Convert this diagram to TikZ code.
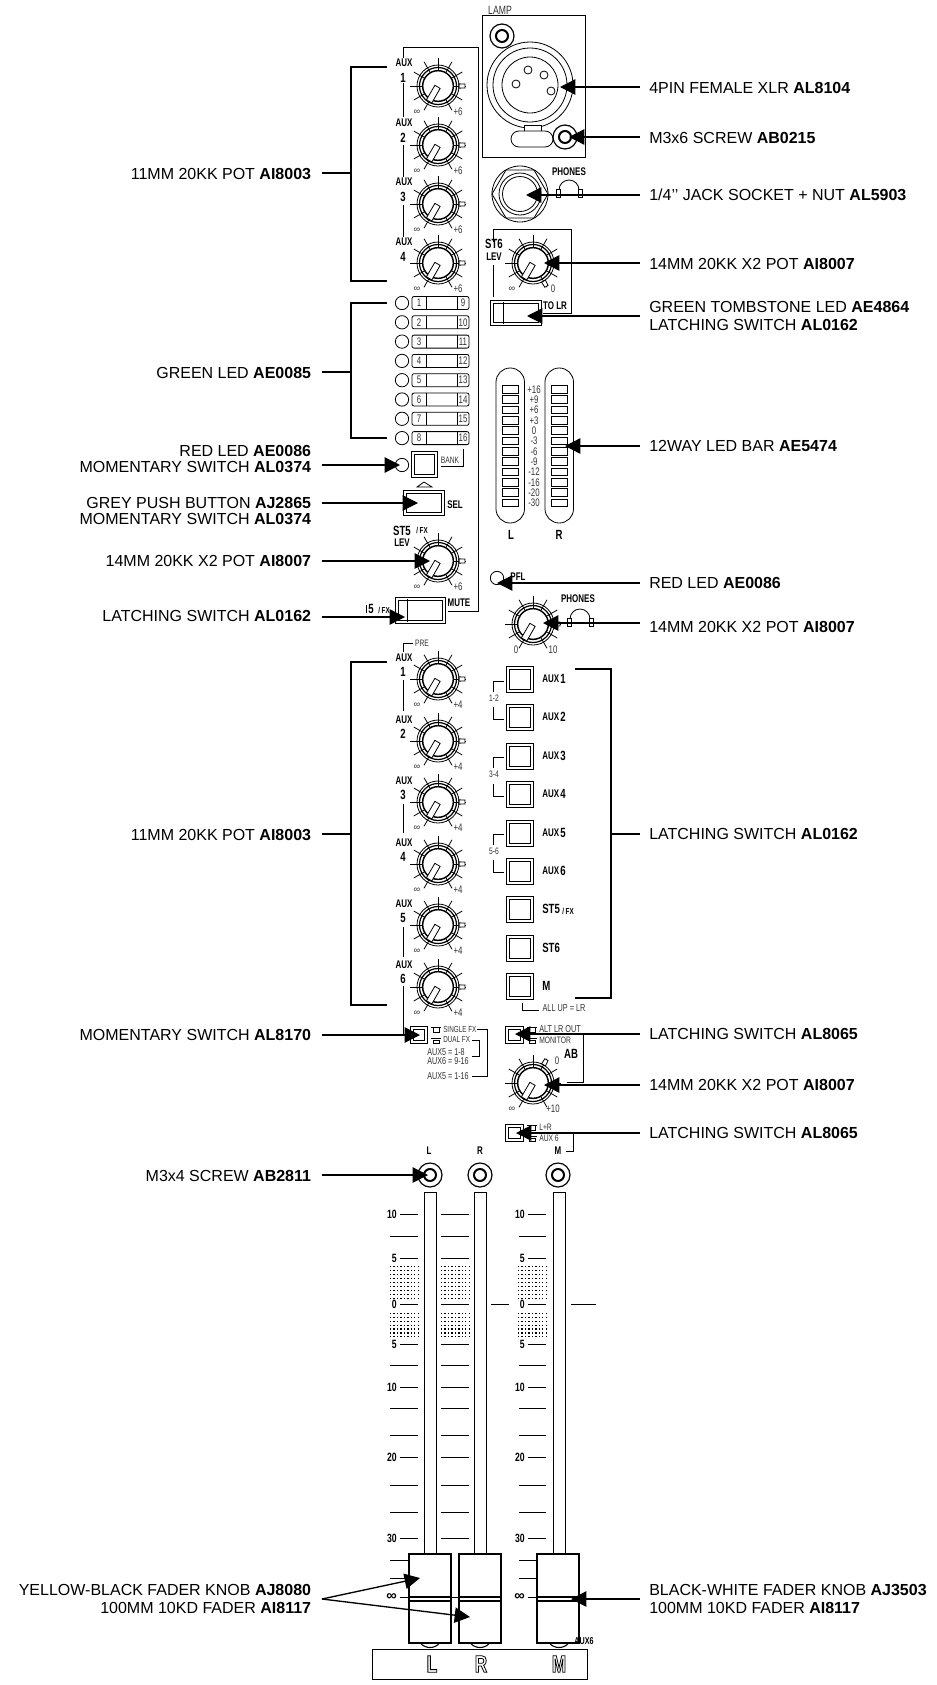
\documentclass[tikz,border=0pt]{standalone}
\usepackage{fontspec}
\setmainfont{Liberation Sans}
\newfontfamily\narrowfont[FakeStretch=0.72]{Liberation Sans}
\usetikzlibrary{arrows.meta,calc}

\tikzset{
   panel/.style={line width=.6pt},
   arr/.style={-{Triangle[length=11.5pt,width=11.5pt]},line width=1pt},
   brk/.style={line width=1pt},
   labl/.style={anchor=east,align=right,inner ysep=0pt,inner xsep=8pt,font=\fontsize{12}{13.6}\selectfont},
   labr/.style={anchor=west,align=left,inner ysep=0pt,inner xsep=6.75pt,font=\fontsize{12}{13.6}\selectfont},
   nbold/.style={inner sep=0pt,font=\narrowfont\bfseries\fontsize{8.3}{9}\selectfont},
   nbig/.style={inner sep=0pt,font=\narrowfont\bfseries\fontsize{10}{11}\selectfont},
   nsmall/.style={inner sep=0pt,text=black!80,font=\narrowfont\fontsize{7}{8}\selectfont},
   nnum/.style={inner sep=0pt,text=black!80,font=\narrowfont\fontsize{8.2}{9}\selectfont},
   nfx/.style={inner sep=0pt,font=\narrowfont\bfseries\fontsize{6.5}{7}\selectfont},
   ninf/.style={inner sep=0pt,text=black!80,font=\fontsize{7}{8}\selectfont},
   nletter/.style={inner sep=0pt,font=\narrowfont\bfseries\fontsize{18}{19}\selectfont},
   knobcap/.style={circle,draw,fill=white,line width=1.1pt,minimum size=23pt,inner sep=0pt},
   swline/.style={draw,double=white,double distance=1.2pt,line width=.55pt},
}

\newcommand{\knob}[6][-21]{
   \begin{scope}[shift={(#3,#4)}]
      \foreach \a in {-240,-210,...,60}
         \draw[panel] (\a:15) -- (\a:28);
      \draw[panel,fill=white] (-#5-6:21) -- (-#5-4:27) -- (-#5+4:27) -- (-#5+6:21) -- cycle;
      \draw[panel] (0,0) circle (21);
      \draw[line width=.9pt] (0,0) circle (18.5);
      \node[knobcap] (#2) at (0,0) {};
      \draw[panel,fill=white] (120-72:3.2) -- (120-10:18) -- (120+10:18) -- (120+72:3.2) -- cycle;
      \node[#6] (#2lo) at (#1,26) {\knoblow};
      \node[nnum] (#2hi) at (20,26) {\knobhigh};
   \end{scope}
}
\newcommand{\knoblow}{∞}
\newcommand{\knobhigh}{+6}
\newcommand{\screw}[3]{
   \node[circle,draw,line width=.9pt,minimum size=18pt,inner sep=0pt] (#1) at (#2,#3) {};
   \draw[line width=1.5pt] (#2,#3) circle (6);
}
\newcommand{\phones}[2]{
   \draw[panel] (#1-10,#2-2) arc (180:360:10);
   \draw[panel,fill=white] (#1-13,#2-3) rectangle (#1-9,#2+5);
   \draw[panel,fill=white] (#1+9,#2-3) rectangle (#1+13,#2+5);
}
\newcommand{\iconup}[2]{
   \draw[panel] (#1-5,#2-2) -- (#1+5,#2-2);
   \draw[panel] (#1-3,#2-2) rectangle (#1+3,#2+3);
}
\newcommand{\icondown}[2]{
   \draw[panel] (#1-5,#2-2) -- (#1+5,#2-2);
   \draw[panel] (#1-3,#2) rectangle (#1+3,#2+3);
}
\newcommand{\dotgrid}[1]{
   \foreach \i in {0,...,8} {
      \foreach \j in {0,...,8}
         \fill (#1+3.45*\i,1266+4*\j) rectangle +(1.3,1.3);
      \foreach \j in {0,...,6}
         \fill (#1+3.45*\i,1313+3.85*\j) rectangle +(1.3,1.3);
   }
}
\newcommand{\outl}[1]{\special{pdf:code 1 Tr 0.6 w}#1\special{pdf:code 0 Tr}}

\begin{document}
\begin{tikzpicture}[x=.75pt,y=-.75pt]
   \useasboundingbox (0,0) rectangle (937,1685);
   \fill[white] (0,0) rectangle (937,1685);

   \draw[panel] (403,58) -- (403,47) -- (478,47) -- (478,611) -- (448,611);
   \draw[panel] (403,83) -- (403,117);
   \draw[panel] (403,145) -- (403,177);
   \draw[panel] (403,205) -- (403,237);

   \knob{ka}{438}{86}{0}{ninf}
   \knob{kb}{438}{145}{0}{ninf}
   \knob{kc}{438}{204}{0}{ninf}
   \knob{kd}{438}{263}{0}{ninf}
   \foreach \n/\y in {1/63,2/123,3/182,4/242} {
      \node[nbold] (ax\n) at (404,\y) {AUX};
      \node[nbig] (nx\n) at (403,\y+14.5) {\n};
   }

   \draw[panel] (482,15) rectangle (585,157);
   \node[nsmall,font=\narrowfont\fontsize{9}{10}\selectfont] (lamp) at (500,10) {LAMP};
   \screw{sa}{502}{36}
   \draw[panel] (530,85) circle (43);
   \draw[panel] (530,85) circle (37);
   \draw[panel] (530,85) circle (28);
   \foreach \x/\y [count=\p] in {528/70,544/75,516/84,551/91}
      \node[circle,draw,panel,minimum size=6pt,inner sep=0pt] (pin\p) at (\x,\y) {};
   \draw[panel,fill=white] (524,125) rectangle (541,132);
   \draw[panel,fill=white,rounded corners=6pt] (511,131) rectangle (553,147);
   \screw{sb}{565}{137}

   \draw[panel] (520,194) circle (28);
   \draw[panel] (548,194) -- (534,170) -- (506,170) -- (492,194) -- (506,218) -- (534,218) -- cycle;
   \draw[panel] (520,194) circle (21);
   \draw[panel] (520,194) circle (17.5);
   \node[nbold] (pha) at (569,172) {PHONES};
   \phones{569}{192}

   \draw[panel] (493,242) -- (493,229) -- (571,229) -- (571,313) -- (543,313);
   \draw[panel] (493,265) -- (493,297);
   \node[nbig] (st6) at (494,244) {ST6};
   \node[nbold] (lev6) at (494,257) {LEV};
   \renewcommand{\knobhigh}{0}
   \knob{ke}{533}{263}{-60}{ninf}
   \renewcommand{\knobhigh}{+6}
   \draw[swline] (492,302) rectangle (540,324);
   \draw[panel] (503,302) -- (503,324);
   \node[nbold] (tolr) at (555,306) {TO LR};

   \foreach \i in {1,...,8} {
      \node[circle,draw,panel,minimum size=10pt,inner sep=0pt] (led\i) at (402,{303+19.3*(\i-1)}) {};
      \draw[panel,rounded corners=1.5pt] (412,{296.5+19.3*(\i-1)}) rectangle (469,{309.5+19.3*(\i-1)});
      \draw[panel] (426,{296.5+19.3*(\i-1)}) -- (426,{309.5+19.3*(\i-1)});
      \draw[panel] (457,{296.5+19.3*(\i-1)}) -- (457,{309.5+19.3*(\i-1)});
      \node[nnum] (lo\i) at (419,{303+19.3*(\i-1)}) {\i};
      \pgfmathtruncatemacro{\hb}{\i+8}
      \node[nnum] (hi\i) at (463,{303+19.3*(\i-1)}) {\hb};
   }

   \node[circle,draw,panel,minimum size=10pt,inner sep=0pt] (ledb) at (402,465) {};
   \draw[swline] (413,453) rectangle (436,476);
   \node[nsmall] (bank) at (450,460) {BANK};
   \draw[panel] (441,466) -- (463,466) -- (463,449);
   \draw[panel] (424,482) -- (432,487) -- (417,487) -- cycle;
   \draw[swline] (405,492) rectangle (443,514);
   \node[nbold] (sel) at (455,505) {SEL};
   \node[nbig] (st5) at (402,531) {ST5};
   \node[nfx] (fx) at (422,530) {/ FX};
   \node[nbold] (lev5) at (402,543) {LEV};
   \knob{kf}{438}{561}{0}{ninf}
   \draw[swline] (397,599) rectangle (444,622);
   \draw[panel] (407,599) -- (407,622);
   \node[nbold] (mute) at (459,603) {MUTE};
   \node[nbig] (five) at (371,609) {5};
   \node[nfx] (fxb) at (384,610) {/ FX};
   \draw[panel] (366,605) -- (366,613);

   \foreach \x [count=\b] in {496,545} {
      \draw[panel,rounded corners=10.6pt] (\x,368) rectangle (\x+28.5,523);
      \foreach \i in {0,...,11}
         \draw[panel] (\x+6,{385.5+10.33*\i}) rectangle (\x+22,{393.2+10.33*\i});
   }
   \foreach \t [count=\i from 0] in {+16,+9,+6,+3,0,-3,-6,-9,-12,-16,-20,-30}
      \node[nnum] (sc\i) at (534,{389.3+10.33*\i}) {\t};
   \node[nbig] (barl) at (511,535) {L};
   \node[nbig] (barr) at (559,535) {R};

   \node[circle,draw,panel,minimum size=10pt,inner sep=0pt] (ledp) at (497,578) {};
   \node[nbold] (pfl) at (518,577) {PFL};
   \node[nbold] (phb) at (578,599) {PHONES};
   \phones{580}{621}
   \renewcommand{\knoblow}{0}
   \renewcommand{\knobhigh}{10}
   \knob[-17]{kg}{533}{624}{0}{nnum}
   \renewcommand{\knoblow}{∞}
   \renewcommand{\knobhigh}{+4}

   \draw[panel] (403,652) -- (403,643) -- (413,643);
   \node[nsmall] (pre) at (422,643) {PRE};
   \foreach \n/\y/\t in {1/679/658,2/741/720,3/802/781,4/864/843,5/925/904,6/987/965} {
      \knob{km\n}{438}{\y}{0}{ninf}
      \node[nbold] (ay\n) at (404,\t) {AUX};
      \node[nbig] (ny\n) at (403,\t+14) {\n};
   }
   \draw[panel] (403,680) -- (403,711);
   \draw[panel] (403,804) -- (403,833);
   \draw[panel] (403,927) -- (403,957);
   \draw[panel] (403,986) -- (403,1035);

   \foreach \y in {668,706,745,783,822,860,898,937,975}
      \draw[swline] (508,\y) rectangle (532,\y+23);
   \foreach \n/\y in {1/679,2/717,3/756,4/794,5/833,6/871} {
      \node[nbold,anchor=west] (bx\n) at (542,\y) {AUX};
      \node[nbig,anchor=west] (by\n) at (560,\y) {\n};
   }
   \node[nbig,anchor=west] (bst) at (542,909) {ST5};
   \node[nfx,anchor=west] (bfx) at (562,911) {/ FX};
   \node[nbig,anchor=west] (bsx) at (542,948) {ST6};
   \node[nbig,anchor=west] (bm) at (542,986) {M};
   \foreach \t/\a/\b in {1-2/681/719,3-4/757/796,5-6/834/872} {
      \draw[panel] (504,\a) -- (493,\a) -- (493,\a+11);
      \draw[panel] (493,\b-12) -- (493,\b) -- (504,\b);
      \node[nsmall] (g\a) at (494,\a+17) {\t};
   }
   \draw[panel] (522,1003) -- (522,1010) -- (539,1010);
   \node[nsmall,font=\narrowfont\fontsize{7.6}{8}\selectfont] (allup) at (564,1008) {ALL UP = LR};

   \draw[swline] (412,1028) rectangle (426,1042);
   \iconup{436}{1029}
   \icondown{436}{1040}
   \node[nsmall,anchor=west,font=\narrowfont\fontsize{6.6}{7}\selectfont] (single) at (443,1029) {SINGLE FX};
   \node[nsmall,anchor=west,font=\narrowfont\fontsize{6.6}{7}\selectfont] (dual) at (443,1040) {DUAL FX};
   \node[nsmall,anchor=west,font=\narrowfont\fontsize{7.5}{8}\selectfont] (aea) at (427,1052) {AUX5 = 1-8};
   \node[nsmall,anchor=west,font=\narrowfont\fontsize{7.5}{8}\selectfont] (aeb) at (427,1061) {AUX6 = 9-16};
   \node[nsmall,anchor=west,font=\narrowfont\fontsize{7.5}{8}\selectfont] (aec) at (427,1076) {AUX5 = 1-16};
   \draw[panel] (477,1029) -- (487,1029) -- (487,1076) -- (472,1076);
   \draw[panel] (472,1040) -- (479,1040) -- (479,1056) -- (472,1056);

   \draw[swline] (507,1028) rectangle (522,1042);
   \iconup{532}{1029}
   \icondown{532}{1040}
   \node[nsmall,anchor=west,font=\narrowfont\fontsize{7.6}{8}\selectfont] (alt) at (539,1029) {ALT LR OUT};
   \node[nsmall,anchor=west] (mon) at (539,1040) {MONITOR};
   \draw[panel] (583,1034) -- (583,1082) -- (567,1082);
   \node[nbig] (ab) at (571,1054) {AB};
   \renewcommand{\knobhigh}{+10}
   \knob{kh}{533}{1083}{60}{ninf}
   \node[nnum] (khz) at (557,1061) {0};

   \draw[swline] (507,1126) rectangle (522,1140);
   \iconup{532}{1127}
   \icondown{532}{1138}
   \node[nsmall,anchor=west] (lpr) at (539,1127) {L+R};
   \node[nsmall,anchor=west] (aux6) at (539,1138) {AUX 6};
   \draw[panel] (561,1132) -- (573,1132) -- (573,1151) -- (566,1151);

   \node[nbold] (fl) at (429,1151) {L};
   \node[nbold] (fr) at (480,1151) {R};
   \node[nbold] (fm) at (558,1151) {M};
   \screw{sl}{430}{1175}
   \screw{sr}{480}{1175}
   \screw{sm}{558}{1175}

   \foreach \x in {424,474,553}
      \draw[line width=.7pt] (\x,1554) -- (\x,1192) -- (\x+12,1192) -- (\x+12,1554);

   \foreach \y in {1560,1578} {
      \draw[panel] (390,\y) -- (409,\y);
      \draw[panel] (519,\y) -- (537,\y);
   }
   \foreach \y in {1236,1365,1408,1435,1485,1512}
      \draw[panel] (390,\y) -- (418,\y) (519,\y) -- (546,\y);
   \foreach \y in {1214,1258,1304,1344,1387,1457,1538} {
      \draw[panel] (400,\y) -- (418,\y);
      \draw[panel] (528,\y) -- (546,\y);
   }
   \foreach \y in {1214,1236,1258,1304,1344,1365,1387,1408,1435,1457,1485,1512,1538}
      \draw[panel] (441,\y) -- (469,\y);
   \draw[panel] (491,1304) -- (509,1304);
   \draw[panel] (571,1304) -- (596,1304);
   \foreach \t/\y [count=\i] in {10/1214,5/1258,0/1304,5/1344,10/1387,20/1457,30/1538} {
      \node[nbold,anchor=east,font=\narrowfont\bfseries\fontsize{9}{10}\selectfont] (fa\i) at (397,\y) {\t};
      \node[nbold,anchor=east,font=\narrowfont\bfseries\fontsize{9}{10}\selectfont] (fb\i) at (525,\y) {\t};
   }
   \node[nbold,anchor=east,font=\bfseries\fontsize{11}{12}\selectfont] (fai) at (397,1597) {∞};
   \node[nbold,anchor=east,font=\bfseries\fontsize{11}{12}\selectfont] (fbi) at (525,1597) {∞};
   \dotgrid{390}
   \dotgrid{441}
   \dotgrid{518}

   \draw[panel] (400,1597) -- (409,1597);
   \draw[panel] (528,1597) -- (537,1597);
   \draw[panel] (451,1597) -- (459,1597);
   \foreach \x/\w/\c in {409/.9/430,459/1.3/480,537/.9/559} {
      \draw[line width=.8pt] (\c-9.5,1643) .. controls (\c-5,1649) and (\c+5,1649) .. (\c+9.5,1643);
      \draw[line width=\w pt,fill=white] (\x,1554) rectangle (\x+42,1643);
      \draw[line width=1pt] (\x,1597) -- (\x+42,1597);
      \draw[line width=1pt] (\x,1601) -- (\x+42,1601);
   }
   \node[nfx,font=\narrowfont\bfseries\fontsize{7.5}{8}\selectfont] (auxs) at (584,1641) {AUX6};
   \draw[panel] (372,1649) rectangle (587,1679);
   \node[nletter] (pl) at (432,1664) {\outl{L}};
   \node[nletter] (pr) at (481,1664) {\outl{R}};
   \node[nletter] (pm) at (559,1664) {\outl{M}};

   \node[labl] (l1) at (322,174) {11MM 20KK POT \textbf{AI8003}};
   \node[labl] (l2) at (322,373) {GREEN LED \textbf{AE0085}};
   \node[labl,font=\fontsize{12}{12}\selectfont] (l3) at (322,459) {RED LED \textbf{AE0086}\\MOMENTARY SWITCH \textbf{AL0374}};
   \node[labl,font=\fontsize{12}{12}\selectfont] (l4) at (322,511) {GREY PUSH BUTTON \textbf{AJ2865}\\MOMENTARY SWITCH \textbf{AL0374}};
   \node[labl] (l5) at (322,561) {14MM 20KK X2 POT \textbf{AI8007}};
   \node[labl] (l6) at (322,616) {LATCHING SWITCH \textbf{AL0162}};
   \node[labl] (l7) at (322,835) {11MM 20KK POT \textbf{AI8003}};
   \node[labl] (l8) at (322,1035) {MOMENTARY SWITCH \textbf{AL8170}};
   \node[labl] (l9) at (322,1176) {M3x4 SCREW \textbf{AB2811}};
   \node[labl] (l10) at (322,1599) {YELLOW-BLACK FADER KNOB \textbf{AJ8080}\\100MM 10KD FADER \textbf{AI8117}};

   \node[labr] (r1) at (640,88) {4PIN FEMALE XLR \textbf{AL8104}};
   \node[labr] (r2) at (640,138) {M3x6 SCREW \textbf{AB0215}};
   \node[labr] (r3) at (640,195) {1/4’’ JACK SOCKET + NUT \textbf{AL5903}};
   \node[labr] (r4) at (640,264) {14MM 20KK X2 POT \textbf{AI8007}};
   \node[labr] (r5) at (640,316) {GREEN TOMBSTONE LED \textbf{AE4864}\\LATCHING SWITCH \textbf{AL0162}};
   \node[labr] (r6) at (640,446) {12WAY LED BAR \textbf{AE5474}};
   \node[labr] (r7) at (640,583) {RED LED \textbf{AE0086}};
   \node[labr] (r8) at (640,627) {14MM 20KK X2 POT \textbf{AI8007}};
   \node[labr] (r9) at (640,834) {LATCHING SWITCH \textbf{AL0162}};
   \node[labr] (r10) at (640,1034) {LATCHING SWITCH \textbf{AL8065}};
   \node[labr] (r11) at (640,1085) {14MM 20KK X2 POT \textbf{AI8007}};
   \node[labr] (r12) at (640,1133) {LATCHING SWITCH \textbf{AL8065}};
   \node[labr] (r13) at (640,1599) {BLACK-WHITE FADER KNOB \textbf{AJ3503}\\100MM 10KD FADER \textbf{AI8117}};

   \coordinate (b1) at (351,173);
   \coordinate (b2) at (351,372);
   \coordinate (b7) at (351,834);
   \coordinate (b9) at (611,834);
   \draw[brk] (387,67) -- (351,67) -- (351,281) -- (387,281);
   \draw[brk] (387,303) -- (351,303) -- (351,438) -- (387,438);
   \draw[brk] (387,662) -- (351,662) -- (351,1005) -- (387,1005);
   \draw[brk] (575,669) -- (611,669) -- (611,998) -- (575,998);
   \draw[brk] (l1.east |- b1) -- (b1);
   \draw[brk] (l2.east |- b2) -- (b2);
   \draw[brk] (l7.east |- b7) -- (b7);
   \draw[brk] (r9.west) -- (b9);

   \coordinate (t3) at (400,465);
   \coordinate (t4) at (418,503);
   \coordinate (t5) at (430,561);
   \coordinate (t6) at (405,617);
   \coordinate (t8) at (420,1035);
   \coordinate (t9) at (428,1175);
   \foreach \l/\t in {l3/t3,l4/t4,l5/t5,l6/t6,l8/t8,l9/t9}
      \draw[arr] (\l.east |- \t) -- (\t);
   \coordinate (t10) at (420,1578);
   \coordinate (t11) at (470,1617);
   \draw[arr] (l10.east) -- (t10);
   \draw[arr] (l10.east) -- (t11);

   \coordinate (u1) at (560,87);
   \coordinate (u2) at (569,137);
   \coordinate (u3) at (526,195);
   \coordinate (u4) at (544,263);
   \coordinate (u5) at (527,316);
   \coordinate (u6) at (565,446);
   \coordinate (u7) at (497,583);
   \coordinate (u8) at (543,623);
   \coordinate (u10) at (515,1034);
   \coordinate (u11) at (544,1085);
   \coordinate (u12) at (516,1133);
   \coordinate (u13) at (571,1599);
   \foreach \r/\t in {r1/u1,r2/u2,r3/u3,r4/u4,r5/u5,r6/u6,r7/u7,r8/u8,r10/u10,r11/u11,r12/u12,r13/u13}
      \draw[arr] (\r.west |- \t) -- (\t);
\end{tikzpicture}
\end{document}
